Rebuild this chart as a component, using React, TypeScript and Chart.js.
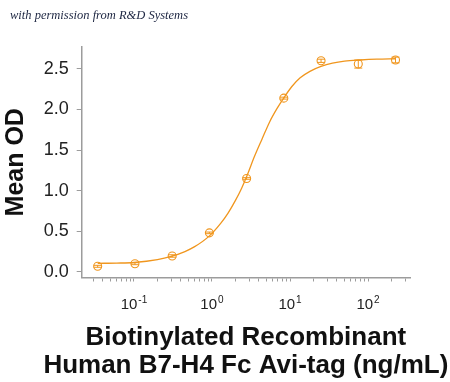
import React, { useEffect, useRef } from 'react';
import { Chart, registerables } from 'chart.js';

Chart.register(...registerables);

// Measured data points (concentration in ng/mL, mean OD)
const pointX = [0.0343, 0.103, 0.309, 0.926, 2.78, 8.33, 25, 75, 225];
const pointY = [0.068, 0.1, 0.195, 0.48, 1.15, 2.14, 2.6, 2.56, 2.61];
const pointErr = [0.012, 0.012, 0.015, 0.01, 0.01, 0.012, 0.02, 0.05, 0.035];

// Fitted curve
const curveX = [0.0343, 0.06, 0.1, 0.2, 0.3, 0.45, 0.6, 0.92, 1.3, 1.6, 2.0, 2.4, 2.8, 3.5, 4.4, 5.5, 6.8, 8.3, 10.5, 13.5, 18, 25, 35, 50, 80, 130, 225];
const curveY = [0.105, 0.108, 0.115, 0.15, 0.19, 0.25, 0.31, 0.44, 0.6, 0.72, 0.88, 1.03, 1.18, 1.42, 1.64, 1.85, 2.01, 2.14, 2.28, 2.39, 2.47, 2.53, 2.57, 2.595, 2.61, 2.62, 2.625];

// Axis ticks and titles
const yTicks = [0, 0.5, 1.0, 1.5, 2.0, 2.5];
const xMajorTicks = [0.1, 1, 10, 100];
const xTickBase = ['10', '10', '10', '10'];
const xTickExponents = ['-1', '0', '1', '2'];
const xTitleLines = ['Biotinylated Recombinant', 'Human B7-H4 Fc Avi-tag (ng/mL)'];
const yTitle = 'Mean OD';
const credit = 'with permission from R&D Systems';

const X_MIN = 0.0214;
const X_MAX = 345;
const Y_MIN = -0.07;
const Y_MAX = 2.77;

const ORANGE = '#F0961E';
const AXIS = '#9c9c9c';
const FONT = '"Liberation Sans", Arial, sans-serif';

export default function App() {
  const ref = useRef<HTMLCanvasElement | null>(null);

  useEffect(() => {
    if (!ref.current) return;

    const errorBars = {
      id: 'errorBars',
      afterDatasetsDraw(chart: any) {
        const { ctx } = chart;
        const xs = chart.scales.x;
        const ys = chart.scales.y;
        ctx.save();
        ctx.strokeStyle = ORANGE;
        ctx.lineWidth = 1;
        for (let i = 0; i < pointX.length; i++) {
          const px = xs.getPixelForValue(pointX[i]);
          const t = ys.getPixelForValue(pointY[i] + pointErr[i]);
          const b = ys.getPixelForValue(pointY[i] - pointErr[i]);
          ctx.beginPath();
          ctx.moveTo(px, t);
          ctx.lineTo(px, b);
          ctx.moveTo(px - 4, t);
          ctx.lineTo(px + 4, t);
          ctx.moveTo(px - 4, b);
          ctx.lineTo(px + 4, b);
          ctx.stroke();
        }
        ctx.restore();
      },
    };

    const xLabels = {
      id: 'xLabels',
      afterDraw(chart: any) {
        const { ctx, chartArea } = chart;
        const xs = chart.scales.x;
        const baseY = chartArea.bottom + 31;
        ctx.save();
        ctx.fillStyle = '#222';
        ctx.textBaseline = 'alphabetic';
        ctx.textAlign = 'left';
        for (let i = 0; i < xMajorTicks.length; i++) {
          const px = xs.getPixelForValue(xMajorTicks[i]);
          ctx.font = `15px ${FONT}`;
          const wb = ctx.measureText(xTickBase[i]).width;
          ctx.font = `10px ${FONT}`;
          const we = ctx.measureText(xTickExponents[i]).width;
          const start = px - (wb + we + 1) / 2;
          ctx.font = `15px ${FONT}`;
          ctx.fillText(xTickBase[i], start, baseY);
          ctx.font = `10px ${FONT}`;
          ctx.fillText(xTickExponents[i], start + wb + 1, baseY - 6);
        }
        // x axis title (two lines, not squeezed to the axis width)
        const cx = (xs.left + xs.right) / 2;
        ctx.fillStyle = '#111';
        ctx.textAlign = 'center';
        ctx.font = `bold 26px ${FONT}`;
        ctx.fillText(xTitleLines[0], cx, chartArea.bottom + 67.5);
        ctx.fillText(xTitleLines[1], cx, chartArea.bottom + 95.5);
        ctx.restore();
      },
    };

    const chart = new Chart(ref.current, {
      type: 'scatter',
      data: {
        datasets: [
          {
            label: 'fit',
            data: curveX.map((x, i) => ({ x, y: curveY[i] })),
            showLine: true,
            borderColor: ORANGE,
            borderWidth: 1.3,
            pointRadius: 0,
            cubicInterpolationMode: 'monotone',
            fill: false,
          },
          {
            label: 'data',
            data: pointX.map((x, i) => ({ x, y: pointY[i] })),
            showLine: false,
            borderColor: ORANGE,
            backgroundColor: 'rgba(0,0,0,0)',
            borderWidth: 1.1,
            pointRadius: 4,
            pointStyle: 'circle',
          },
        ],
      },
      options: {
        animation: false,
        responsive: true,
        maintainAspectRatio: false,
        layout: { padding: { top: 47, right: 40, bottom: 0, left: 0 } },
        plugins: {
          legend: { display: false },
          tooltip: { enabled: false },
          title: { display: false },
        },
        scales: {
          x: {
            type: 'logarithmic',
            min: X_MIN,
            max: X_MAX,
            afterBuildTicks: (s: any) => {
              const t: any[] = [];
              for (let k = -2; k <= 2; k++) {
                for (let n = 1; n <= 9; n++) {
                  const v = n * Math.pow(10, k);
                  if (v >= X_MIN && v <= X_MAX) t.push({ value: v });
                }
              }
              s.ticks = t;
            },
            afterFit: (s: any) => {
              s.height = 104.5;
            },
            grid: {
              drawOnChartArea: false,
              drawTicks: true,
              tickLength: 4,
              color: AXIS,
              lineWidth: 1,
            },
            border: { display: true, color: AXIS, width: 1.5 },
            ticks: {
              autoSkip: false,
              maxRotation: 0,
              callback: () => '',
            },
            title: { display: false },
          },
          y: {
            type: 'linear',
            min: Y_MIN,
            max: Y_MAX,
            afterBuildTicks: (s: any) => {
              s.ticks = yTicks.map((v) => ({ value: v }));
            },
            afterFit: (s: any) => {
              s.width = 81.7;
            },
            grid: {
              drawOnChartArea: false,
              drawTicks: true,
              tickLength: 5,
              color: AXIS,
              lineWidth: 1,
            },
            border: { display: true, color: AXIS, width: 1.5 },
            ticks: {
              color: '#222',
              padding: 8,
              font: { family: FONT, size: 18 },
              callback: (v: any) => Number(v).toFixed(1),
            },
            title: {
              display: true,
              text: yTitle,
              color: '#111',
              font: { family: FONT, size: 25, weight: 'bold', lineHeight: 1.2 },
              padding: { top: 1.3, bottom: 0 },
            },
          },
        },
      },
      plugins: [errorBars, xLabels],
    } as any);

    return () => chart.destroy();
  }, []);

  return (
    <div style={{ position: 'fixed', left: 0, top: 0, width: 450, height: 382, background: '#fff' }}>
      <div
        style={{
          position: 'absolute',
          left: 10,
          top: 8,
          font: 'italic 12.5px "Liberation Serif", "DejaVu Serif", serif',
          color: '#1c2541',
          whiteSpace: 'nowrap',
        }}
      >
        {credit}
      </div>
      <canvas ref={ref} />
    </div>
  );
}
